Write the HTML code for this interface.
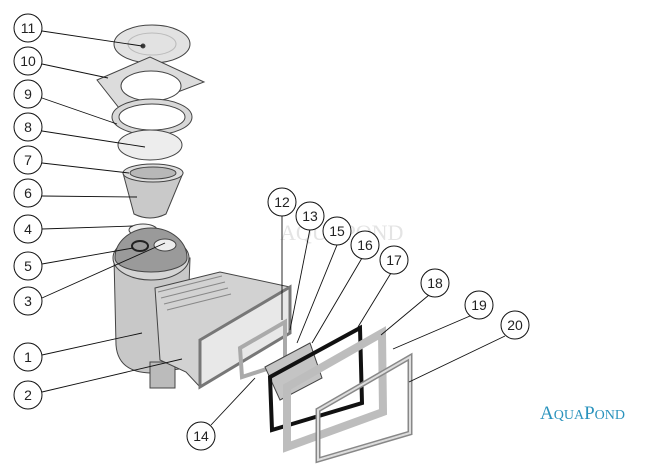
<!DOCTYPE html>
<html><head><meta charset="utf-8"><style>
html,body{margin:0;padding:0;background:#fff;width:650px;height:466px;overflow:hidden}
</style></head><body>
<svg width="650" height="466" viewBox="0 0 650 466" xmlns="http://www.w3.org/2000/svg" font-family="Liberation Sans, sans-serif">
<rect width="650" height="466" fill="#fff"/>
<text x="280" y="240" font-family="Liberation Serif, serif" font-size="22" fill="#e4e4e4">AQUAPOND</text>
<g stroke="#444" stroke-width="1">
<!-- 11 lid -->
<ellipse cx="152" cy="44" rx="38" ry="19" fill="#e2e2e2"/>
<ellipse cx="152" cy="44" rx="24" ry="11" fill="none" stroke="#bbb"/>
<circle cx="143" cy="46" r="2" fill="#333"/>
<!-- 10 frame -->
<polygon points="97,80 150,57 204,82 123,113" fill="#dcdcdc"/>
<ellipse cx="151" cy="86" rx="30" ry="15" fill="#fff"/>
<!-- 9 ring -->
<ellipse cx="152" cy="117" rx="40" ry="18" fill="#d8d8d8"/>
<ellipse cx="152" cy="117" rx="33" ry="13" fill="#fff"/>
<!-- 8 disc -->
<ellipse cx="150" cy="145" rx="32" ry="15" fill="#ededed"/>
<!-- basket 6/7 -->
<path d="M123,173 L134,214 Q150,222 166,214 L183,173 Z" fill="#c9c9c9"/>
<ellipse cx="153" cy="173" rx="30" ry="9" fill="#ddd"/>
<ellipse cx="153" cy="173" rx="23" ry="6" fill="#b8b8b8"/>
<!-- 4 -->
<ellipse cx="143" cy="230" rx="14" ry="6" fill="#eee"/>
<!-- body -->
<path d="M114,258 L116,345 Q118,372 150,373 L186,368 L190,258 Z" fill="#c8c8c8"/>
<rect x="150" y="362" width="25" height="26" fill="#bbb"/>
<path d="M155,288 L220,272 L290,287 L290,333 L200,387 L186,372 L160,360 Z" fill="#d2d2d2"/>
<path d="M158,292 L222,276 M161,298 L225,282 M164,304 L228,288 M167,310 L231,294" stroke="#888"/>
<ellipse cx="151" cy="258" rx="38" ry="22" fill="#d4d4d4"/>
<path d="M115,258 A36,30 0 0 1 187,258 A36,14 0 0 1 115,258Z" fill="#9a9a9a"/>
<ellipse cx="140" cy="246" rx="8" ry="5" fill="none" stroke="#222" stroke-width="2"/>
<ellipse cx="165" cy="245" rx="11" ry="6" fill="#eee"/>
<!-- throat flange -->
<polygon points="200,340 290,287 290,333 200,387" fill="#e8e8e8" stroke-width="3" stroke="#777"/>
<!-- 12/13 small frame -->
<polygon points="240,348 285,322 285,363 242,377" fill="none" stroke="#aaa" stroke-width="4"/>
<!-- 15 flap -->
<polygon points="265,367 310,343 322,378 280,400" fill="#c4c4c4"/>
<!-- 17 gasket -->
<polygon points="270,377 360,328 362,403 272,430" fill="none" stroke="#111" stroke-width="4"/>
<!-- 18 flange -->
<polygon points="287,387 382,333 383,412 287,447" fill="none" stroke="#bdbdbd" stroke-width="8"/>
<!-- 20 frame -->
<polygon points="318,410 410,357 410,433 318,460" fill="none" stroke="#888" stroke-width="5"/>
<polygon points="318,410 410,357 410,433 318,460" fill="none" stroke="#ddd" stroke-width="2"/>
</g>
<g stroke="#111" stroke-width="0.9" fill="none">
<line x1="42" y1="31" x2="142" y2="46"/>
<line x1="42" y1="64" x2="108" y2="78"/>
<line x1="42" y1="98" x2="117" y2="124"/>
<line x1="42" y1="131" x2="145" y2="147"/>
<line x1="42" y1="163" x2="129" y2="173"/>
<line x1="42" y1="196" x2="137" y2="197"/>
<line x1="42" y1="229" x2="133" y2="226"/>
<line x1="42" y1="264" x2="133" y2="248"/>
<line x1="42" y1="298" x2="165" y2="243"/>
<line x1="42" y1="355" x2="142" y2="333"/>
<line x1="42" y1="392" x2="182" y2="359"/>
<line x1="211" y1="425" x2="255" y2="378"/>
<line x1="282" y1="216" x2="282" y2="320"/>
<line x1="310" y1="229" x2="290" y2="330"/>
<line x1="337" y1="245" x2="297" y2="343"/>
<line x1="362" y1="258" x2="312" y2="343"/>
<line x1="391" y1="273" x2="358" y2="327"/>
<line x1="429" y1="295" x2="381" y2="335"/>
<line x1="470" y1="316" x2="393" y2="349"/>
<line x1="505" y1="336" x2="409" y2="382"/>
</g>
<g fill="#fff" stroke="#111" stroke-width="1">
<circle cx="28" cy="28" r="14"/><circle cx="28" cy="61" r="14"/><circle cx="28" cy="94" r="14"/>
<circle cx="28" cy="127" r="14"/><circle cx="28" cy="160" r="14"/><circle cx="28" cy="193" r="14"/>
<circle cx="28" cy="229" r="14"/><circle cx="28" cy="266" r="14"/><circle cx="28" cy="301" r="14"/>
<circle cx="28" cy="357" r="14"/><circle cx="28" cy="395" r="14"/><circle cx="201" cy="436" r="14"/>
<circle cx="282" cy="202" r="14"/><circle cx="310" cy="216" r="14"/><circle cx="337" cy="231" r="14"/>
<circle cx="365" cy="245" r="14"/><circle cx="394" cy="260" r="14"/><circle cx="435" cy="283" r="14"/>
<circle cx="479" cy="305" r="14"/><circle cx="515" cy="325" r="14"/>
</g>
<g font-size="14" fill="#222" text-anchor="middle">
<text x="28" y="33">11</text><text x="28" y="66">10</text><text x="28" y="99">9</text>
<text x="28" y="132">8</text><text x="28" y="165">7</text><text x="28" y="198">6</text>
<text x="28" y="234">4</text><text x="28" y="271">5</text><text x="28" y="306">3</text>
<text x="28" y="362">1</text><text x="28" y="400">2</text><text x="201" y="441">14</text>
<text x="282" y="207">12</text><text x="310" y="221">13</text><text x="337" y="236">15</text>
<text x="365" y="250">16</text><text x="394" y="265">17</text><text x="435" y="288">18</text>
<text x="479" y="310">19</text><text x="515" y="330">20</text>
</g>
<text x="540" y="419" font-family="Liberation Serif, serif" font-size="19" fill="#2a93bd">A<tspan font-size="14">QUA</tspan>P<tspan font-size="14">OND</tspan></text>
</svg>
</body></html>
